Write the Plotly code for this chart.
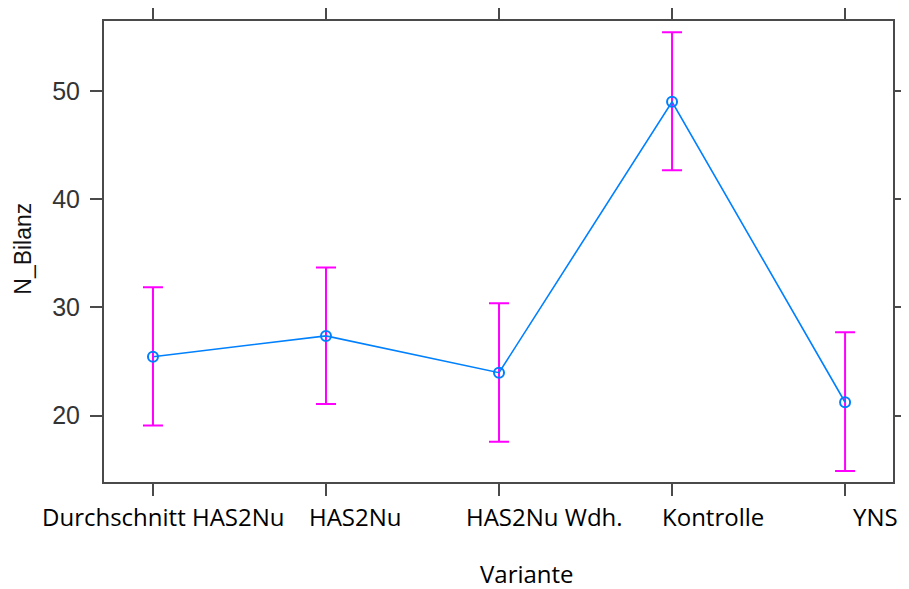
import plotly.graph_objects as go

# ---- data ----
categories = ["Durchschnitt HAS2Nu", "HAS2Nu", "HAS2Nu Wdh.", "Kontrolle", "YNS"]
fit = [25.45, 27.37, 23.97, 49.01, 21.24]
upper = [31.87, 33.68, 30.39, 55.42, 27.70]
lower = [19.08, 21.08, 17.60, 42.68, 14.89]
y_ticks = [20, 30, 40, 50]
y_title = "N_Bilanz"
x_title = "Variante"

# ---- layout / style parameters ----
x_pos = list(range(1, len(categories) + 1))
label_shift_px = [10, 30, 45, 41, 30]
line_color = "#0080FF"
bar_color = "#FF00FF"
axis_color = "#4a4a4a"

err_plus = [u - f for u, f in zip(upper, fit)]
err_minus = [f - l for f, l in zip(fit, lower)]

fig = go.Figure()
fig.add_trace(go.Scatter(
    x=x_pos, y=fit, mode="markers",
    marker=dict(size=1, color="rgba(0,0,0,0)"),
    error_y=dict(type="data", symmetric=False, array=err_plus, arrayminus=err_minus,
                 color=bar_color, thickness=2, width=10),
    hoverinfo="skip", showlegend=False,
))
fig.add_trace(go.Scatter(
    x=x_pos, y=fit, mode="lines+markers",
    line=dict(color=line_color, width=1.6),
    marker=dict(symbol="circle-open", size=10, color=line_color, line=dict(width=2, color=line_color)),
    showlegend=False,
))

annotations = []
for xp, name, sh in zip(x_pos, categories, label_shift_px):
    annotations.append(dict(
        x=xp, y=0, xref="x", yref="paper", text=name, showarrow=False,
        xanchor="center", yanchor="middle", xshift=sh, yshift=-34,
        font=dict(family="Open Sans", size=24, color="#000000"),
    ))
annotations.append(dict(
    x=0.536, y=0, xref="paper", yref="paper", text=x_title, showarrow=False,
    xanchor="center", yanchor="middle", yshift=-91,
    font=dict(family="Open Sans", size=24, color="#000000"),
))
annotations.append(dict(
    x=0, y=0.506, xref="paper", yref="paper", text=y_title, showarrow=False,
    xanchor="center", yanchor="middle", xshift=-81, textangle=-90,
    font=dict(family="Liberation Sans", size=23, color="#111111"),
))

# page body has an 8px margin, so the figure is made 8px smaller on each side
fig.update_layout(
    width=901, height=581,
    margin=dict(l=96, r=16, t=13, b=107, autoexpand=False),
    paper_bgcolor="white", plot_bgcolor="white",
    annotations=annotations,
    xaxis=dict(
        range=[0.717, 5.277], tickvals=x_pos, showticklabels=False, automargin=False,
        showline=True, linecolor=axis_color, linewidth=2, mirror="ticks",
        ticks="outside", ticklen=12, tickwidth=2, tickcolor=axis_color,
        showgrid=False, zeroline=False,
    ),
    yaxis=dict(
        range=[13.87, 56.47], tickvals=y_ticks, automargin=False,
        showline=True, linecolor=axis_color, linewidth=2, mirror="ticks",
        ticks="outside", ticklen=12, tickwidth=2, tickcolor=axis_color,
        showgrid=False, zeroline=False, ticklabelstandoff=5,
        tickfont=dict(family="Liberation Sans", size=25, color="#333333"),
    ),
)

fig.write_html("out.html")
